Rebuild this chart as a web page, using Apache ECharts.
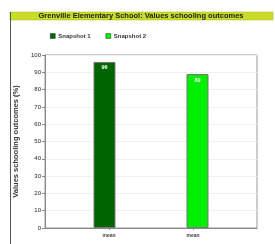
<!DOCTYPE html>
<html>
<head>
<meta charset="utf-8">
<style>
html, body { margin: 0; padding: 0; background: #fff; }
#container { width: 275px; height: 244px; }
</style>
<script src="https://cdn.jsdelivr.net/npm/echarts@6/dist/echarts.min.js"></script>
</head>
<body>
<div id="container"></div>
<script>
var categories = ['mean', 'mean'];
var seriesNames = ['Snapshot 1', 'Snapshot 2'];
var snapshot1 = [96];
var snapshot2 = [89];
var yTicks = [0, 10, 20, 30, 40, 50, 60, 70, 80, 90, 100];

var dom = document.getElementById('container');
var myChart = echarts.init(dom, null, { renderer: 'canvas' });

var font = 'Liberation Sans, Arial, sans-serif';

var option = {
    animation: false,
    textStyle: { fontFamily: font },
    graphic: [
        {
            type: 'rect',
            shape: { x: 10, y: 12, width: 263, height: 8 },
            style: { fill: '#c9dc27', stroke: '#a9b724', lineWidth: 0.5 }
        },
        {
            type: 'text',
            x: 141, y: 16,
            style: {
                text: 'Grenville Elementary School: Values schooling outcomes',
                font: 'bold 7.5px ' + font,
                fill: '#222',
                align: 'center',
                verticalAlign: 'middle'
            }
        },
        {
            type: 'line',
            shape: { x1: 10.5, y1: 12, x2: 10.5, y2: 244 },
            style: { stroke: '#555', lineWidth: 1 }
        }
    ],
    legend: {
        top: 28,
        left: 45,
        itemWidth: 5,
        itemHeight: 5,
        itemGap: 15,
        icon: 'rect',
        textStyle: { fontSize: 6, fontWeight: 'bold', color: '#333', padding: [0, 0, 0, -2] },
        data: seriesNames,
        itemStyle: { borderColor: '#333', borderWidth: 0.5 }
    },
    grid: {
        left: 45,
        right: 18,
        top: 55,
        bottom: 16,
        show: true,
        borderColor: '#999',
        borderWidth: 1
    },
    xAxis: {
        type: 'value',
        min: 0.238,
        max: 2.762,
        splitLine: { show: false },
        axisLine: { lineStyle: { color: '#888' } },
        axisTick: { show: true, length: 2, customValues: [1, 2], lineStyle: { color: '#888' } },
        axisLabel: {
            customValues: [1, 2],
            fontSize: 5,
            fontWeight: 'bold',
            color: '#444',
            margin: 5,
            formatter: function (v) { return categories[Math.round(v) - 1]; }
        }
    },
    yAxis: {
        type: 'value',
        min: 0,
        max: 100,
        interval: 10,
        name: 'Values schooling outcomes (%)',
        nameLocation: 'middle',
        nameGap: 21,
        nameTextStyle: { fontSize: 7.5, fontWeight: 'bold', color: '#333' },
        axisLine: { show: true, lineStyle: { color: '#888' } },
        axisTick: { show: true, length: 3, lineStyle: { color: '#888' } },
        axisLabel: { fontSize: 6, color: '#222', margin: 4,
            formatter: function (v) { return yTicks.indexOf(v) >= 0 ? String(v) : ''; } },
        splitLine: { show: true, lineStyle: { color: '#f0f0f0', width: 1 } }
    },
    series: [
        {
            name: seriesNames[0],
            type: 'bar',
            barWidth: 22,
            barGap: '-59%',
            data: snapshot1.map(function (v) { return [1, v]; }),
            itemStyle: { color: '#006400', borderColor: '#777', borderWidth: 1 },
            label: { show: true, position: 'insideTop', distance: 3, fontSize: 5.5, fontWeight: 'bold', color: '#fff',
                formatter: function (p) { return p.value[1]; } }
        },
        {
            name: seriesNames[1],
            type: 'bar',
            barWidth: 22,
            barGap: '-59%',
            data: snapshot2.map(function (v) { return [2, v]; }),
            itemStyle: { color: '#00ee00', borderColor: '#777', borderWidth: 1 },
            label: { show: true, position: 'insideTop', distance: 3, fontSize: 5.5, fontWeight: 'bold', color: '#fff',
                formatter: function (p) { return p.value[1]; } }
        }
    ]
};

myChart.setOption(option, true);
</script>
</body>
</html>
